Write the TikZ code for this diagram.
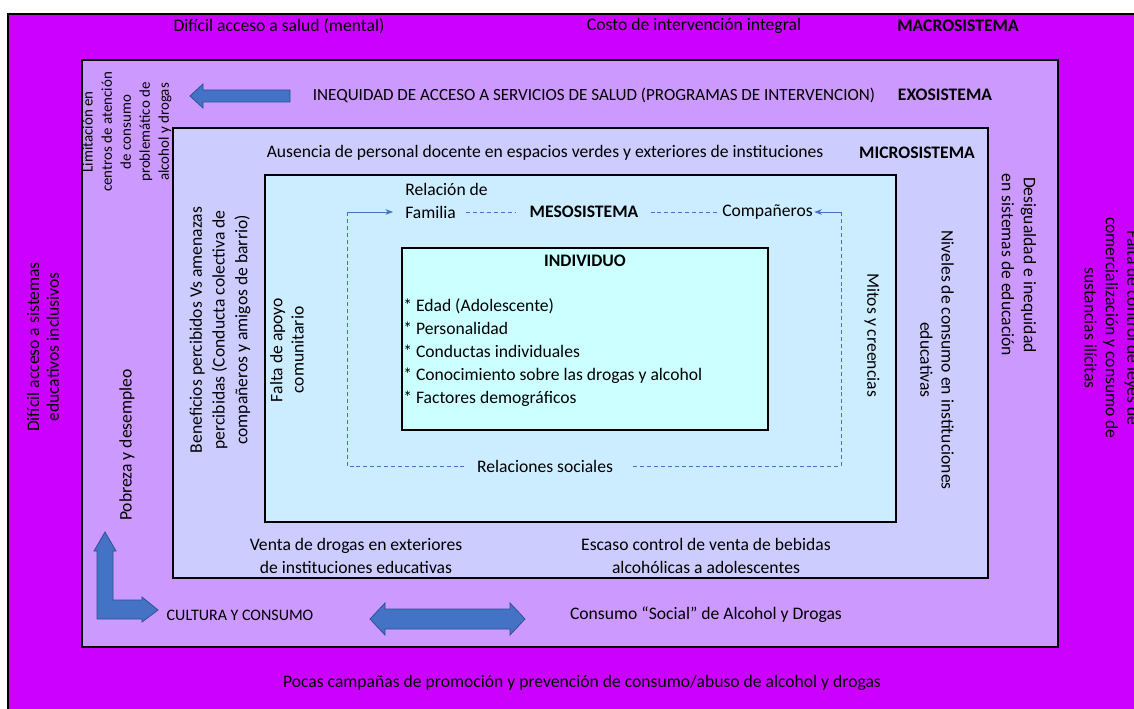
\documentclass[tikz,border=0pt]{standalone}
\usepackage{fontspec}
\setmainfont{Carlito}
\usetikzlibrary{arrows.meta, positioning}
\definecolor{macrobg}{RGB}{204, 0, 255}
\definecolor{exobg}{RGB}{204, 153, 255}
\definecolor{microbg}{RGB}{204, 204, 255}
\definecolor{mesobg}{RGB}{204, 236, 255}
\definecolor{indivbg}{RGB}{204, 255, 255}
\definecolor{arrowblue}{RGB}{68, 114, 196}
\definecolor{arrowedge}{RGB}{47, 82, 143}

\begin{document}
\begin{tikzpicture}[x=0.75pt, y=-0.75pt,
  level/.style={draw=black, line width=1.3pt, fill=#1},
  txt/.style={font=\fontsize{13.2}{16.5}\selectfont, inner sep=0pt, align=center},
  title/.style={txt, font=\fontsize{13.2}{16.5}\selectfont\bfseries},
  vtxt/.style={txt, rotate=90},
  rtxt/.style={txt, rotate=-90},
  blockarrow/.style={fill=arrowblue, draw=arrowedge, line width=0.6pt},
  link/.style={-Stealth, arrowblue, line width=0.6pt},
  dashlink/.style={arrowblue, line width=0.6pt, dash pattern=on 3pt off 2.2pt}
]
  \useasboundingbox (0,0) rectangle (1134,709);
  \clip (0,0) rectangle (1134,709);
  \fill[white] (0,0) rectangle (1134,709);

  % nested systems
  \draw[level=macrobg] (8,14) rectangle (1145,720);
  \draw[level=exobg] (82,60) rectangle (1058,647);
  \draw[level=microbg] (173,128) rectangle (988,578);
  \draw[level=mesobg] (265,175) rectangle (896,522);
  \draw[level=indivbg] (402,248) rectangle (768,430);

  % macrosistema
  \node[txt] (salud) at (279,26) {Difícil acceso a salud (mental)};
  \node[txt] (costo) at (694,26) {Costo de intervención integral};
  \node[title] (macro) at (958,26) {MACROSISTEMA};
  \node[vtxt, font=\fontsize{13.2}{14.8}\selectfont] (educ) at (43,347) {Difícil acceso a sistemas\\educativos inclusivos};
  \node[rtxt, font=\fontsize{13.2}{16}\selectfont] (leyes) at (1112,328) {Falta de control de leyes de\\comercialización y consumo de\\sustancias ilícitas};
  \node[txt] (campanas) at (582,683) {Pocas campañas de promoción y prevención de consumo/abuso de alcohol y drogas};

  % exosistema
  \node[txt, font=\fontsize{12.8}{16.5}\selectfont] (ineq) at (594,95) {INEQUIDAD DE ACCESO A SERVICIOS DE SALUD (PROGRAMAS DE INTERVENCION)};
  \node[title] (exo) at (945,95) {EXOSISTEMA};
  \node[vtxt, font=\fontsize{11.2}{14.3}\selectfont] (limit) at (127,132) {Limitación en\\centros de atención\\de consumo\\problemático de\\alcohol y drogas};
  \node[rtxt] (desig) at (1019,265) {Desigualdad e inequidad\\en sistemas de educación};
  \node[vtxt] (pobreza) at (127,445) {Pobreza y desempleo};
  \node[txt, font=\fontsize{12}{16.5}\selectfont] (cultura) at (240,615) {CULTURA Y CONSUMO};
  \node[txt] (social) at (706,615) {Consumo “Social” de Alcohol y Drogas};
  \filldraw[blockarrow] (290,90) -- (203,90) -- (203,84) -- (190,96) -- (203,108) -- (203,102) -- (290,102) -- cycle;
  \filldraw[blockarrow] (370,619) -- (385,603) -- (385,609) -- (510,609) -- (510,603) -- (525,619)
    -- (510,635) -- (510,629) -- (385,629) -- (385,635) -- cycle;
  \filldraw[blockarrow] (105,532) -- (116,551) -- (113,551) -- (113,600) -- (142,600) -- (142,597) -- (158,610)
    -- (142,622) -- (142,619) -- (97,619) -- (97,551) -- (94,551) -- cycle;

  % microsistema
  \node[txt] (ausencia) at (545,153) {Ausencia de personal docente en espacios verdes y exteriores de instituciones};
  \node[title] (micro) at (917,153) {MICROSISTEMA};
  \node[vtxt, font=\fontsize{13.2}{17}\selectfont] (benef) at (220,330) {Beneficios percibidos Vs amenazas\\percibidas (Conducta colectiva de\\compañeros y amigos de barrio)};
  \node[rtxt, font=\fontsize{13.2}{16}\selectfont] (niveles) at (937,360) {Niveles de consumo en instituciones\\educativas};
  \node[txt, font=\fontsize{13.2}{17.2}\selectfont] (venta) at (356,556) {Venta de drogas en exteriores\\de instituciones educativas};
  \node[txt, font=\fontsize{13.2}{17.2}\selectfont] (escaso) at (706,556) {Escaso control de venta de bebidas\\alcohólicas a adolescentes};

  % mesosistema
  \node[txt, anchor=west] (relde) at (405,189) {Relación de};
  \node[txt, anchor=west] (familia) at (405,212) {Familia};
  \node[title] (meso) at (584,212) {MESOSISTEMA};
  \node[txt, anchor=west] (comp) at (722,212) {Compañeros};
  \node[txt] (relsoc) at (545,466) {Relaciones sociales};
  \node[vtxt, font=\fontsize{13.2}{16}\selectfont] (apoyo) at (287,350) {Falta de apoyo\\comunitario};
  \node[rtxt] (mitos) at (872,335) {Mitos y creencias};
  \coordinate (lbot) at (347,466);
  \coordinate (ltop) at (347,212);
  \coordinate (rbot) at (841,466);
  \coordinate (rtop) at (841,212);
  \draw[dashlink] (ltop) -- (lbot) -- (relsoc.west) [shorten >=9pt];
  \draw[dashlink, shorten <=15pt] (relsoc.east) -- (rbot) -- (rtop);
  \draw[link, shorten >=9pt] (ltop) -- (familia.west);
  \draw[link, shorten >=1pt] (rtop) -- (comp.east);
  \draw[dashlink, shorten <=7.5pt, shorten >=10pt] (familia.east) -- (meso.west);
  \draw[dashlink, shorten <=9pt, shorten >=4pt] (meso.east) -- (comp.west);

  % individuo
  \node[title] (indiv) at (585,261) {INDIVIDUO};
  \node[txt, align=left, anchor=west, font=\fontsize{13.2}{17.25}\selectfont] (rasgos) at (403,353)
    {* Edad (Adolescente)\\* Personalidad\\* Conductas individuales\\* Conocimiento sobre las drogas y alcohol\\* Factores demográficos};
\end{tikzpicture}
\end{document}
